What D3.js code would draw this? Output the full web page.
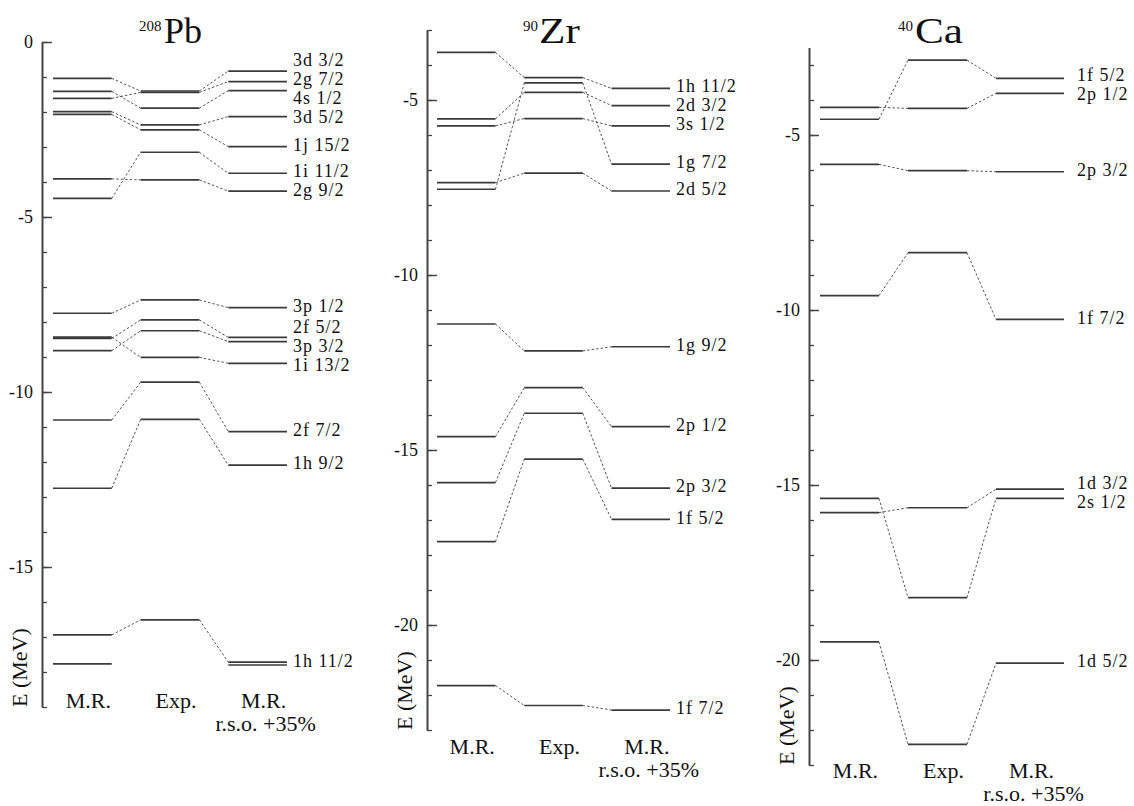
<!DOCTYPE html>
<html>
<head>
<meta charset="utf-8">
<script src="https://cdn.jsdelivr.net/npm/d3@7"></script>
<style>
  body { margin: 0; background: #fff; }
  svg text { font-family: "Liberation Serif", "Times New Roman", Tinos, serif; fill: #111; }
</style>
</head>
<body>
<div id="chart"></div>
<script>
// level names (right column labels) and energies in MeV, one value per column
var pbLabels = ["3d 3/2", "2g 7/2", "4s 1/2", "3d 5/2", "1j 15/2", "1i 11/2", "2g 9/2",
                "3p 1/2", "2f 5/2", "3p 3/2", "1i 13/2", "2f 7/2", "1h 9/2", "1h 11/2", ""];
var pbMR  = [-1.04, -1.61, -1.41, -1.99, -2.07, -4.47, -3.91,
             -7.75, -8.47, -8.82, -8.43, -10.80, -12.75, -16.94, -17.77];
var pbExp = [-1.40, -1.44, -1.89, -2.37, -2.51, -3.15, -3.94,
             -7.37, -7.94, -8.25, -9.01, -9.72, -10.78, -16.51, null];
var pbRSO = [-0.83, -1.13, -1.39, -2.13, -2.99, -3.75, -4.26,
             -7.59, -8.44, -8.56, -9.18, -11.13, -12.09, -17.72, -17.80];

var zrLabels = ["1h 11/2", "2d 3/2", "3s 1/2", "1g 7/2", "2d 5/2", "1g 9/2",
                "2p 1/2", "2p 3/2", "1f 5/2", "1f 7/2"];
var zrMR  = [-3.64, -5.54, -5.74, -7.55, -7.36, -11.40, -14.62, -15.93, -17.62, -21.73];
var zrExp = [-4.36, -4.78, -5.53, -4.51, -7.09, -12.17, -13.22, -13.95, -15.26, -22.30];
var zrRSO = [-4.67, -5.16, -5.74, -6.83, -7.60, -12.05, -14.33, -16.09, -16.98, -22.43];

var caLabels = ["1f 5/2", "2p 1/2", "2p 3/2", "1f 7/2", "1d 3/2", "2s 1/2", "1d 5/2"];
var caMR  = [-4.55, -4.21, -5.84, -9.59, -15.79, -15.38, -19.48];
var caExp = [-2.86, -4.24, -6.02, -8.36, -15.65, -18.22, -22.41];
var caRSO = [-3.38, -3.81, -6.05, -10.27, -15.12, -15.38, -20.09];

var pbTicks = [0, -5, -10, -15];
var zrTicks = [-5, -10, -15, -20];
var caTicks = [-5, -10, -15, -20];

var columnNames = ["M.R.", "Exp.", "M.R."];
var rsoNote = "r.s.o. +35%";

var panels = [
  { mass: "208", name: "Pb", labels: pbLabels, values: [pbMR, pbExp, pbRSO], ticks: pbTicks,
    eTop: 0, eBottom: -19, yTop: 42, axisX: 42, cols: [53, 287], rsoExtra: 0, labelGap: 6,
    massX: 139, nameX: 164, nameStretch: 1.0, colBase: 708 },
  { mass: "90", name: "Zr", labels: zrLabels, values: [zrMR, zrExp, zrRSO], ticks: zrTicks,
    eTop: -3, eBottom: -23, yTop: 30, axisX: 427, cols: [437, 670], rsoExtra: 0, labelGap: 6,
    massX: 523, nameX: 539, nameStretch: 1.2, colBase: 754 },
  { mass: "40", name: "Ca", labels: caLabels, values: [caMR, caExp, caRSO], ticks: caTicks,
    eTop: -2.5, eBottom: -23, yTop: 47.5, axisX: 809, cols: [820, 1055], rsoExtra: 9, labelGap: 13,
    massX: 898, nameX: 915, nameStretch: 1.2, colBase: 778 }
];

var pxPerMeV = 35;
var serif = "'Liberation Serif', 'Times New Roman', Tinos, serif";

var svg = d3.select("#chart")
            .append("svg")
              .attr("width", 1134)
              .attr("height", 806);

// push overlapping labels apart, keeping each cluster centred on its wanted position
function spreadLabels(wanted, gap) {
  var groups = wanted.map(function(w) { return { sum: w, n: 1, top: w }; });
  var merged = true;
  while (merged) {
    merged = false;
    for (var i = 0; i < groups.length - 1; i++) {
      var a = groups[i], b = groups[i + 1];
      if (a.top + a.n * gap > b.top) {
        var n = a.n + b.n, sum = a.sum + b.sum;
        groups.splice(i, 2, { sum: sum, n: n, top: sum / n - (n - 1) * gap / 2 });
        merged = true;
        break;
      }
    }
  }
  var out = [];
  groups.forEach(function(g) {
    for (var k = 0; k < g.n; k++) out.push(g.top + k * gap);
  });
  return out;
}

panels.forEach(function(p) {
  var g = svg.append("g").attr("font-family", serif);
  var y = d3.scaleLinear()
            .domain([p.eTop, p.eBottom])
            .range([p.yTop, p.yTop + pxPerMeV * (p.eTop - p.eBottom)]);
  var x = d3.scaleBand()
            .domain([0, 1, 2])
            .range(p.cols)
            .paddingInner(0.33)
            .paddingOuter(0);

  function x0(c) { return x(c); }
  function x1(c) { return x(c) + x.bandwidth() + (c === 2 ? p.rsoExtra : 0); }

  // minor ticks every MeV
  var minors = d3.range(Math.floor(p.eTop), p.eBottom - 0.5, -1);
  g.append("g")
   .attr("transform", "translate(" + p.axisX + ",0)")
   .call(d3.axisLeft(y).tickValues(minors).tickSize(-5).tickFormat(""))
   .call(function(a) { a.select(".domain").remove(); })
   .selectAll("line").attr("stroke", "#444").attr("stroke-width", 1.3);

  var axis = g.append("g")
              .attr("class", "axis")
              .attr("transform", "translate(" + p.axisX + ",0)")
              .call(d3.axisLeft(y)
                      .tickValues(p.ticks)
                      .tickSizeInner(-10)
                      .tickSizeOuter(0)
                      .tickPadding(9)
                      .tickFormat(function(d) { return String(d); }));
  axis.attr("font-family", serif).attr("font-size", 18);
  axis.select(".domain").attr("stroke", "#444").attr("stroke-width", 2);
  axis.selectAll(".tick line").attr("stroke", "#444").attr("stroke-width", 1.5);
  axis.selectAll(".tick text").attr("fill", "#111");

  // axis title
  g.append("text")
   .attr("transform", "translate(" + (p.axisX - 15) + "," + y(p.eBottom) + ") rotate(-90)")
   .style("font-size", "22px")
   .text("E (MeV)");

  // nucleus title
  g.append("text")
   .attr("x", p.massX)
   .attr("y", 31)
   .style("font-size", "15px")
   .text(p.mass);
  g.append("text")
   .attr("transform", "translate(" + p.nameX + ",43) scale(" + p.nameStretch + ",1)")
   .style("font-size", "36px")
   .text(p.name);

  // rows: one per level
  var rows = p.labels.map(function(lab, i) {
    return { label: lab, v: [p.values[0][i], p.values[1][i], p.values[2][i]] };
  });

  // dashed connectors
  var links = [];
  rows.forEach(function(r) {
    for (var c = 0; c < 2; c++) {
      if (r.v[c] != null && r.v[c + 1] != null) links.push({ c: c, a: r.v[c], b: r.v[c + 1] });
    }
  });
  g.selectAll(".link")
   .data(links)
   .enter()
   .append("line")
     .attr("class", "link")
     .attr("x1", function(d) { return x1(d.c); })
     .attr("y1", function(d) { return y(d.a); })
     .attr("x2", function(d) { return x0(d.c + 1); })
     .attr("y2", function(d) { return y(d.b); })
     .attr("stroke", "#555")
     .attr("stroke-width", 1)
     .attr("stroke-dasharray", "2.5,2");

  // level lines
  var levels = [];
  rows.forEach(function(r) {
    r.v.forEach(function(v, c) { if (v != null) levels.push({ c: c, v: v }); });
  });
  g.selectAll(".level")
   .data(levels)
   .enter()
   .append("line")
     .attr("class", "level")
     .attr("x1", function(d) { return x0(d.c); })
     .attr("x2", function(d) { return x1(d.c); })
     .attr("y1", function(d) { return y(d.v); })
     .attr("y2", function(d) { return y(d.v); })
     .attr("stroke", "#3a3a3a")
     .attr("stroke-width", 1.7);

  // level labels beside the last column
  var named = rows.filter(function(r) { return r.label !== ""; })
                  .map(function(r) { return { label: r.label, want: y(r.v[2]) - 2 }; })
                  .sort(function(a, b) { return a.want - b.want; });
  var placed = spreadLabels(named.map(function(d) { return d.want; }), 19);
  named.forEach(function(d, i) { d.y = placed[i]; });
  g.selectAll(".lev-label")
   .data(named)
   .enter()
   .append("text")
     .attr("class", "lev-label")
     .attr("x", x1(2) + p.labelGap)
     .attr("y", function(d) { return d.y; })
     .attr("dy", "0.35em")
     .style("font-size", "18px")
     .style("letter-spacing", "1px")
     .text(function(d) { return d.label; });

  // column names
  g.selectAll(".col-label")
   .data(columnNames)
   .enter()
   .append("text")
     .attr("class", "col-label")
     .attr("x", function(d, i) { return x(i) + x.bandwidth() / 2 + 6; })
     .attr("y", p.colBase)
     .attr("text-anchor", "middle")
     .style("font-size", "22px")
     .text(function(d) { return d; });
  g.append("text")
   .attr("x", x(2) + x.bandwidth() / 2 + 8)
   .attr("y", p.colBase + 23)
   .attr("text-anchor", "middle")
   .style("font-size", "22px")
   .text(rsoNote);
});
</script>
</body>
</html>
